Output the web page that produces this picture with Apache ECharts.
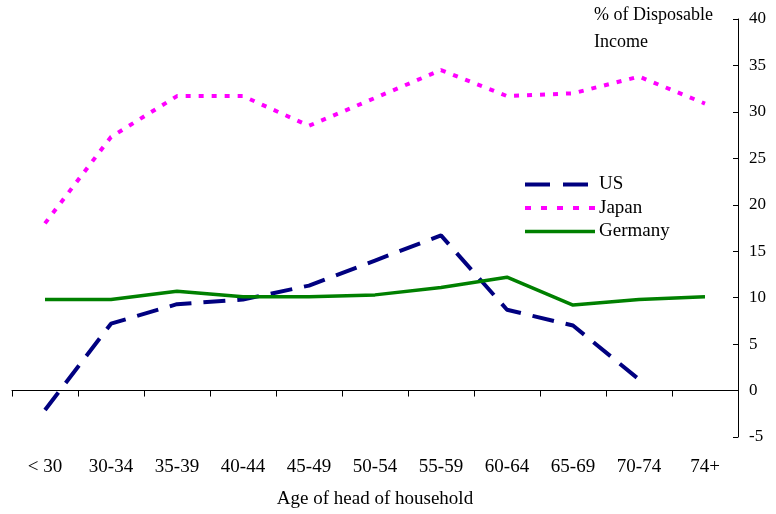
<!DOCTYPE html>
<html><head><meta charset="utf-8">
<script src="https://cdn.jsdelivr.net/npm/echarts@6/dist/echarts.min.js"></script>
<style>html,body{margin:0;padding:0;background:#fff}#c{width:776px;height:514px}</style>
</head><body><div id="c"></div>
<script>
const categories = ['< 30','30-34','35-39','40-44','45-49','50-54','55-59','60-64','65-69','70-74','74+'];
const usValues = [-2.1, 7.2, 9.3, 9.8, 11.3, 14.0, 16.7, 8.7, 7.0, 1.2, null];
const japanValues = [18.0, 27.3, 31.7, 31.7, 28.5, 31.5, 34.5, 31.7, 32.0, 33.8, 30.9];
const germanyValues = [9.8, 9.8, 10.7, 10.1, 10.1, 10.3, 11.1, 12.2, 9.2, 9.8, 10.1];
const yTicks = {min: -5, max: 40, interval: 5};
const FONT = '"Liberation Serif", "Times New Roman", serif';

const chart = echarts.init(document.getElementById('c'), null, {renderer: 'canvas'});
chart.setOption({
  animation: false,
  textStyle: {fontFamily: FONT},
  grid: {left: 12, right: 38, top: 19, bottom: 77, containLabel: false, outerBoundsMode: 'none'},
  legend: {
    left: 518, top: 170, orient: 'vertical', itemWidth: 70, itemHeight: 19, itemGap: 4.5,
    textStyle: {fontFamily: FONT, fontSize: 19, color: '#000', padding: [0,0,0,-1]},
    itemStyle: {opacity: 0},
    data: [
      {name: 'US', lineStyle: {width: 4, type: [25, 13], color: '#000080', cap: 'butt'}},
      {name: 'Japan', lineStyle: {width: 4, type: [6, 10], color: '#FF00FF', cap: 'butt'}},
      {name: 'Germany', lineStyle: {width: 3.5, type: 'solid', color: '#008000'}}
    ]
  },
  graphic: [{
    type: 'text', left: 594, top: 2,
    style: {text: '% of Disposable\nIncome', font: '18px ' + FONT, fill: '#000', lineHeight: 27}
  }],
  xAxis: {
    type: 'category', data: categories, boundaryGap: true,
    axisLine: {onZero: true, lineStyle: {color: '#000', width: 1}},
    axisTick: {show: true, length: 6, alignWithLabel: false, lineStyle: {color: '#000'}},
    axisLabel: {margin: 21, fontSize: 19, color: '#000', fontFamily: FONT, interval: 0},
    name: 'Age of head of household', nameLocation: 'middle', nameGap: 53,
    nameTextStyle: {fontSize: 19, color: '#000', fontFamily: FONT},
    splitLine: {show: false}
  },
  yAxis: {
    type: 'value', position: 'right', min: yTicks.min, max: yTicks.max, interval: yTicks.interval,
    axisLine: {show: true, onZero: false, lineStyle: {color: '#000', width: 1}},
    axisTick: {show: true, inside: true, length: 5, lineStyle: {color: '#000'}},
    axisLabel: {fontSize: 17, color: '#000', fontFamily: FONT, margin: 11},
    splitLine: {show: false}
  },
  series: [
    {name: 'US', type: 'line', data: usValues, symbol: 'none', connectNulls: false,
     lineStyle: {color: '#000080', width: 4, type: [22, 12], cap: 'butt'}, itemStyle: {color: '#000080'}},
    {name: 'Japan', type: 'line', data: japanValues, symbol: 'none',
     lineStyle: {color: '#FF00FF', width: 4, type: [5, 8], cap: 'butt'}, itemStyle: {color: '#FF00FF'}},
    {name: 'Germany', type: 'line', data: germanyValues, symbol: 'none',
     lineStyle: {color: '#008000', width: 3.5, type: 'solid'}, itemStyle: {color: '#008000'}}
  ]
});
</script></body></html>
